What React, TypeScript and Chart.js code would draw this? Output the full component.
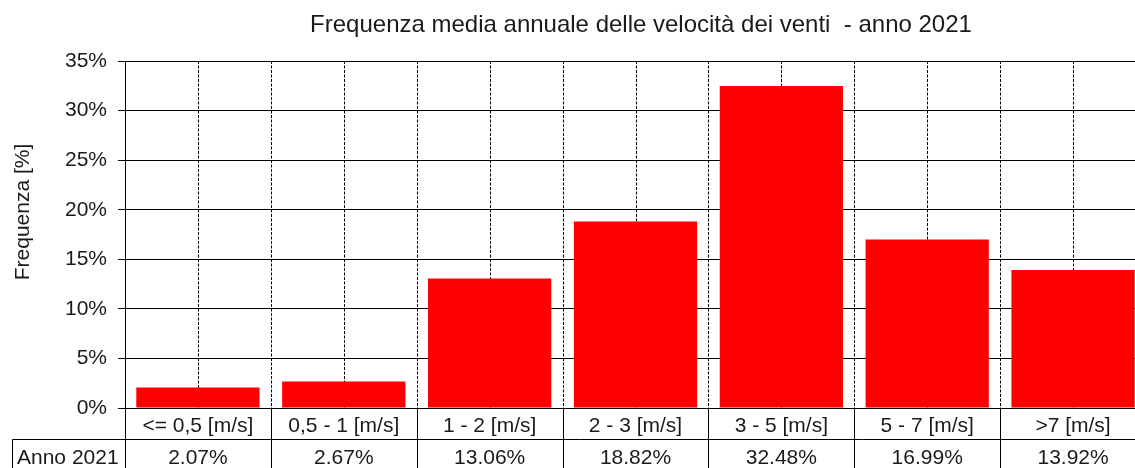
import React, { useEffect, useRef } from "react";
import { Chart, registerables } from "chart.js";

Chart.register(...registerables);

const categories = ["<= 0,5 [m/s]", "0,5 - 1 [m/s]", "1 - 2 [m/s]", "2 - 3 [m/s]", "3 - 5 [m/s]", "5 - 7 [m/s]", ">7 [m/s]"];
const values2021 = [2.07, 2.67, 13.06, 18.82, 32.48, 16.99, 13.92];
const seriesName = "Anno 2021";
const titleText = "Frequenza media annuale delle velocità dei venti  - anno 2021";
const yTitle = "Frequenza [%]";

const FONT = "'Liberation Sans', Arial, sans-serif";
const TEXT = "#1a1a1a";

const tablePlugin = {
  id: "tablePlugin",
  beforeDatasetsDraw(chart: any) {
    const { ctx, chartArea } = chart;
    const x = chart.scales.x;
    const n = categories.length;
    const w = x.getPixelForValue(1) - x.getPixelForValue(0);
    ctx.save();
    ctx.strokeStyle = "#000";
    ctx.lineWidth = 1;
    ctx.setLineDash([3, 1.5]);
    for (let i = 0; i < n; i++) {
      const c = x.getPixelForValue(i);
      for (const px of [c, c + w / 2]) {
        const xx = Math.round(px) + 0.5;
        ctx.beginPath();
        ctx.moveTo(xx, chartArea.top);
        ctx.lineTo(xx, chartArea.bottom);
        ctx.stroke();
      }
    }
    ctx.restore();
  },
  afterDraw(chart: any) {
    const { ctx, chartArea } = chart;
    const x = chart.scales.x;
    const n = categories.length;
    const w = x.getPixelForValue(1) - x.getPixelForValue(0);
    const top = chartArea.bottom;
    const rowH = 31;
    const mid = top + rowH;
    const bottom = top + rowH * 2;
    ctx.save();
    ctx.strokeStyle = "#000";
    ctx.lineWidth = 1;
    ctx.setLineDash([]);
    const line = (x1: number, y1: number, x2: number, y2: number) => {
      ctx.beginPath();
      ctx.moveTo(x1, y1);
      ctx.lineTo(x2, y2);
      ctx.stroke();
    };
    const leftCell = 12.5;
    const ym = Math.round(mid) + 0.5;
    line(leftCell, ym, chartArea.right, ym);
    line(leftCell, ym, leftCell, bottom + 5);
    const xl = Math.round(chartArea.left) + 0.5;
    line(xl, top, xl, bottom + 5);
    for (let i = 0; i < n; i++) {
      const xb = Math.round(x.getPixelForValue(i) + w / 2) + 0.5;
      line(xb, top, xb, bottom + 5);
    }
    ctx.fillStyle = TEXT;
    ctx.font = `21px ${FONT}`;
    ctx.textBaseline = "alphabetic";
    ctx.textAlign = "center";
    for (let i = 0; i < n; i++) {
      const c = x.getPixelForValue(i);
      ctx.fillText(categories[i], c, top + 24);
      ctx.fillText(values2021[i].toFixed(2) + "%", c, mid + 24.5);
    }
    ctx.textAlign = "left";
    ctx.fillText(seriesName, 17, mid + 24.5);
    // y axis title
    ctx.save();
    ctx.translate(29, 212);
    ctx.rotate(-Math.PI / 2);
    ctx.textAlign = "center";
    ctx.textBaseline = "alphabetic";
    ctx.fillText(yTitle, 0, 0);
    ctx.restore();
    // chart title
    ctx.font = `24px ${FONT}`;
    ctx.textAlign = "center";
    ctx.textBaseline = "alphabetic";
    ctx.fillText(titleText, 641, 32);
    ctx.restore();
  },
};

export default function App() {
  const ref = useRef<HTMLCanvasElement | null>(null);
  useEffect(() => {
    if (!ref.current) return;
    const chart = new Chart(ref.current, {
      type: "bar",
      data: {
        labels: categories,
        datasets: [
          {
            label: seriesName,
            data: values2021,
            backgroundColor: "#ff0000",
            borderWidth: 0,
            barPercentage: 0.845,
            categoryPercentage: 1,
          },
        ],
      },
      options: {
        responsive: false,
        animation: false,
        devicePixelRatio: 1,
        layout: { padding: { left: 0, right: 14, top: 61, bottom: 60 } },
        plugins: {
          legend: { display: false },
          tooltip: { enabled: false },
          title: { display: false },
        },
        scales: {
          x: {
            offset: true,
            ticks: { display: false },
            grid: { display: false },
            border: { display: false },
            afterFit: (s: any) => {
              s.height = 0;
            },
          },
          y: {
            min: 0,
            max: 35,
            ticks: {
              stepSize: 5,
              color: TEXT,
              padding: 11,
              font: { family: FONT, size: 21 },
              callback: (v: any) => v + "%",
            },
            grid: { color: "#000", lineWidth: 1, tickLength: 7, tickColor: "#000" },
            border: { display: true, color: "#000", width: 1 },
            afterFit: (s: any) => {
              s.width = 125;
            },
          },
        },
      },
      plugins: [tablePlugin],
    });
    return () => chart.destroy();
  }, []);
  return (
    <div style={{ position: "fixed", left: 0, top: 0, width: 1135, height: 468, overflow: "hidden", background: "#fff" }}>
      <canvas ref={ref} width={1160} height={468} style={{ width: 1160, height: 468, display: "block" }} />
    </div>
  );
}
